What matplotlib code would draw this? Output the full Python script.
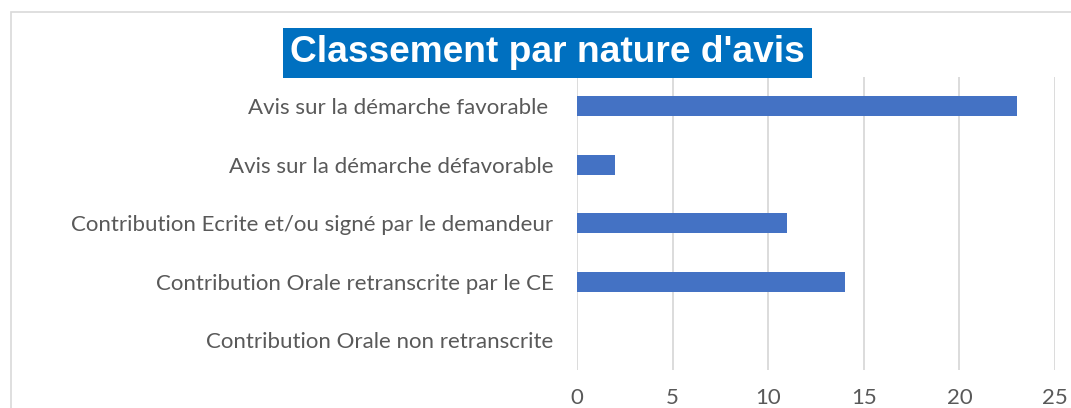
import matplotlib
matplotlib.use("agg")
import matplotlib.pyplot as plt
from matplotlib.patches import Rectangle

# data
categories = ["Avis sur la démarche favorable ",
              "Avis sur la démarche défavorable",
              "Contribution Ecrite et/ou signé par le demandeur",
              "Contribution Orale retranscrite par le CE",
              "Contribution Orale non retranscrite"]
values = [23, 2, 11, 14, 0]
xticks = [0, 5, 10, 15, 20, 25]

W, H = 1071, 408
fig = plt.figure(figsize=(W / 100, H / 100), dpi=100)

# outer chart border (cut at right and bottom)
fig.patches.append(Rectangle((11 / W, -0.2), 1.2, 1.2 - 12 / H,
                             transform=fig.transFigure, fill=False,
                             edgecolor="#d9d9d9", linewidth=1.2))

ax = fig.add_axes([577 / W, 1 - 369.5 / H, 478 / W, 292.5 / H])
ax.barh(range(len(values)), values, height=0.34, color="#4472c4",
        linewidth=0, zorder=3)
ax.set_xlim(0, 25)
ax.set_ylim(4.5, -0.5)
ax.set_xticks(xticks)
ax.set_yticks(range(len(categories)))
ax.set_yticklabels(categories)
ax.grid(axis="x", color="#d9d9d9", linewidth=1.3, zorder=0)
for s in ax.spines.values():
    s.set_visible(False)
ax.tick_params(axis="y", length=0, pad=17, labelsize=16, labelcolor="#595959")
ax.tick_params(axis="x", length=0, pad=13, labelsize=16, labelcolor="#595959")
for lab in ax.get_xticklabels() + ax.get_yticklabels():
    lab.set_fontfamily("Lato")

fig.text(547.5 / W, 1 - 53 / H, "Classement par nature d'avis",
         ha="center", va="center", color="white", fontsize=26.7,
         fontweight="bold", family="Liberation Sans",
         bbox=dict(boxstyle="square,pad=0.2", facecolor="#0070c0",
                   edgecolor="none"))

fig.savefig("out.png", dpi=100)
